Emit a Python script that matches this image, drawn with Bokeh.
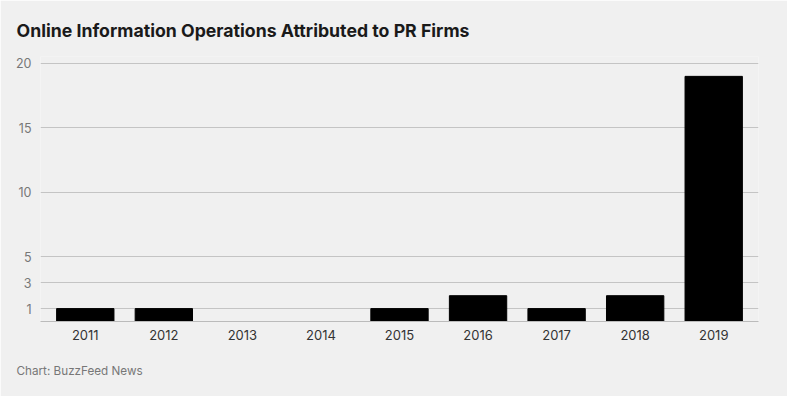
from bokeh.plotting import figure
from bokeh.models import FixedTicker, Title, FactorRange, Range1d
from bokeh.embed import file_html
from bokeh.resources import INLINE

years = ["2011", "2012", "2013", "2014", "2015", "2016", "2017", "2018", "2019"]
counts = [1, 1, 0, 0, 1, 2, 1, 2, 19]
y_ticks = [1, 3, 5, 10, 15, 20]

BG = "#f0f0f0"

p = figure(width=787, height=396,
           x_range=FactorRange(*years, range_padding=0.0156, range_padding_units="percent"),
           y_range=Range1d(0, 20.54), output_backend="svg", toolbar_location=None,
           min_border_left=40, min_border_right=29, min_border_top=56, min_border_bottom=75)
p.background_fill_color = BG
p.border_fill_color = BG
p.outline_line_color = None

p.vbar(x=years, top=counts, width=0.73, color="black")

p.title.text = "Online Information Operations Attributed to PR Firms"
p.title.text_font = "Inter"
p.title.text_font_style = "bold"
p.title.text_font_size = "17.7px"
p.title.text_color = "#1a1a1a"
p.title.offset = -24
p.title.standoff = 32

foot = Title(text="Chart: BuzzFeed News", align="left", text_font="Inter",
             text_font_size="11.7px", text_font_style="normal", text_color="#777777",
             offset=-24, standoff=38)
p.add_layout(foot, "below")

p.yaxis.ticker = FixedTicker(ticks=y_ticks)
p.yaxis.axis_line_color = None
p.yaxis.major_tick_line_color = None
p.yaxis.major_tick_out = 0
p.yaxis.major_tick_in = 0
p.yaxis.minor_tick_line_color = None
p.yaxis.major_label_text_font = "Inter"
p.yaxis.major_label_text_font_size = "12.5px"
p.yaxis.major_label_text_color = "#777777"
p.yaxis.major_label_standoff = 9

p.xaxis.axis_line_color = "#bbbbbb"
p.xaxis.major_tick_line_color = None
p.xaxis.major_tick_out = 0
p.xaxis.major_tick_in = 0
p.xaxis.minor_tick_line_color = None
p.xaxis.major_label_text_font = "Inter"
p.xaxis.major_label_text_font_size = "13px"
p.xaxis.major_label_text_color = "#333333"
p.xaxis.major_label_standoff = 8

p.xgrid.grid_line_color = None
p.ygrid.grid_line_color = "#c4c4c4"

open("out.html", "w").write(file_html(p, INLINE))
